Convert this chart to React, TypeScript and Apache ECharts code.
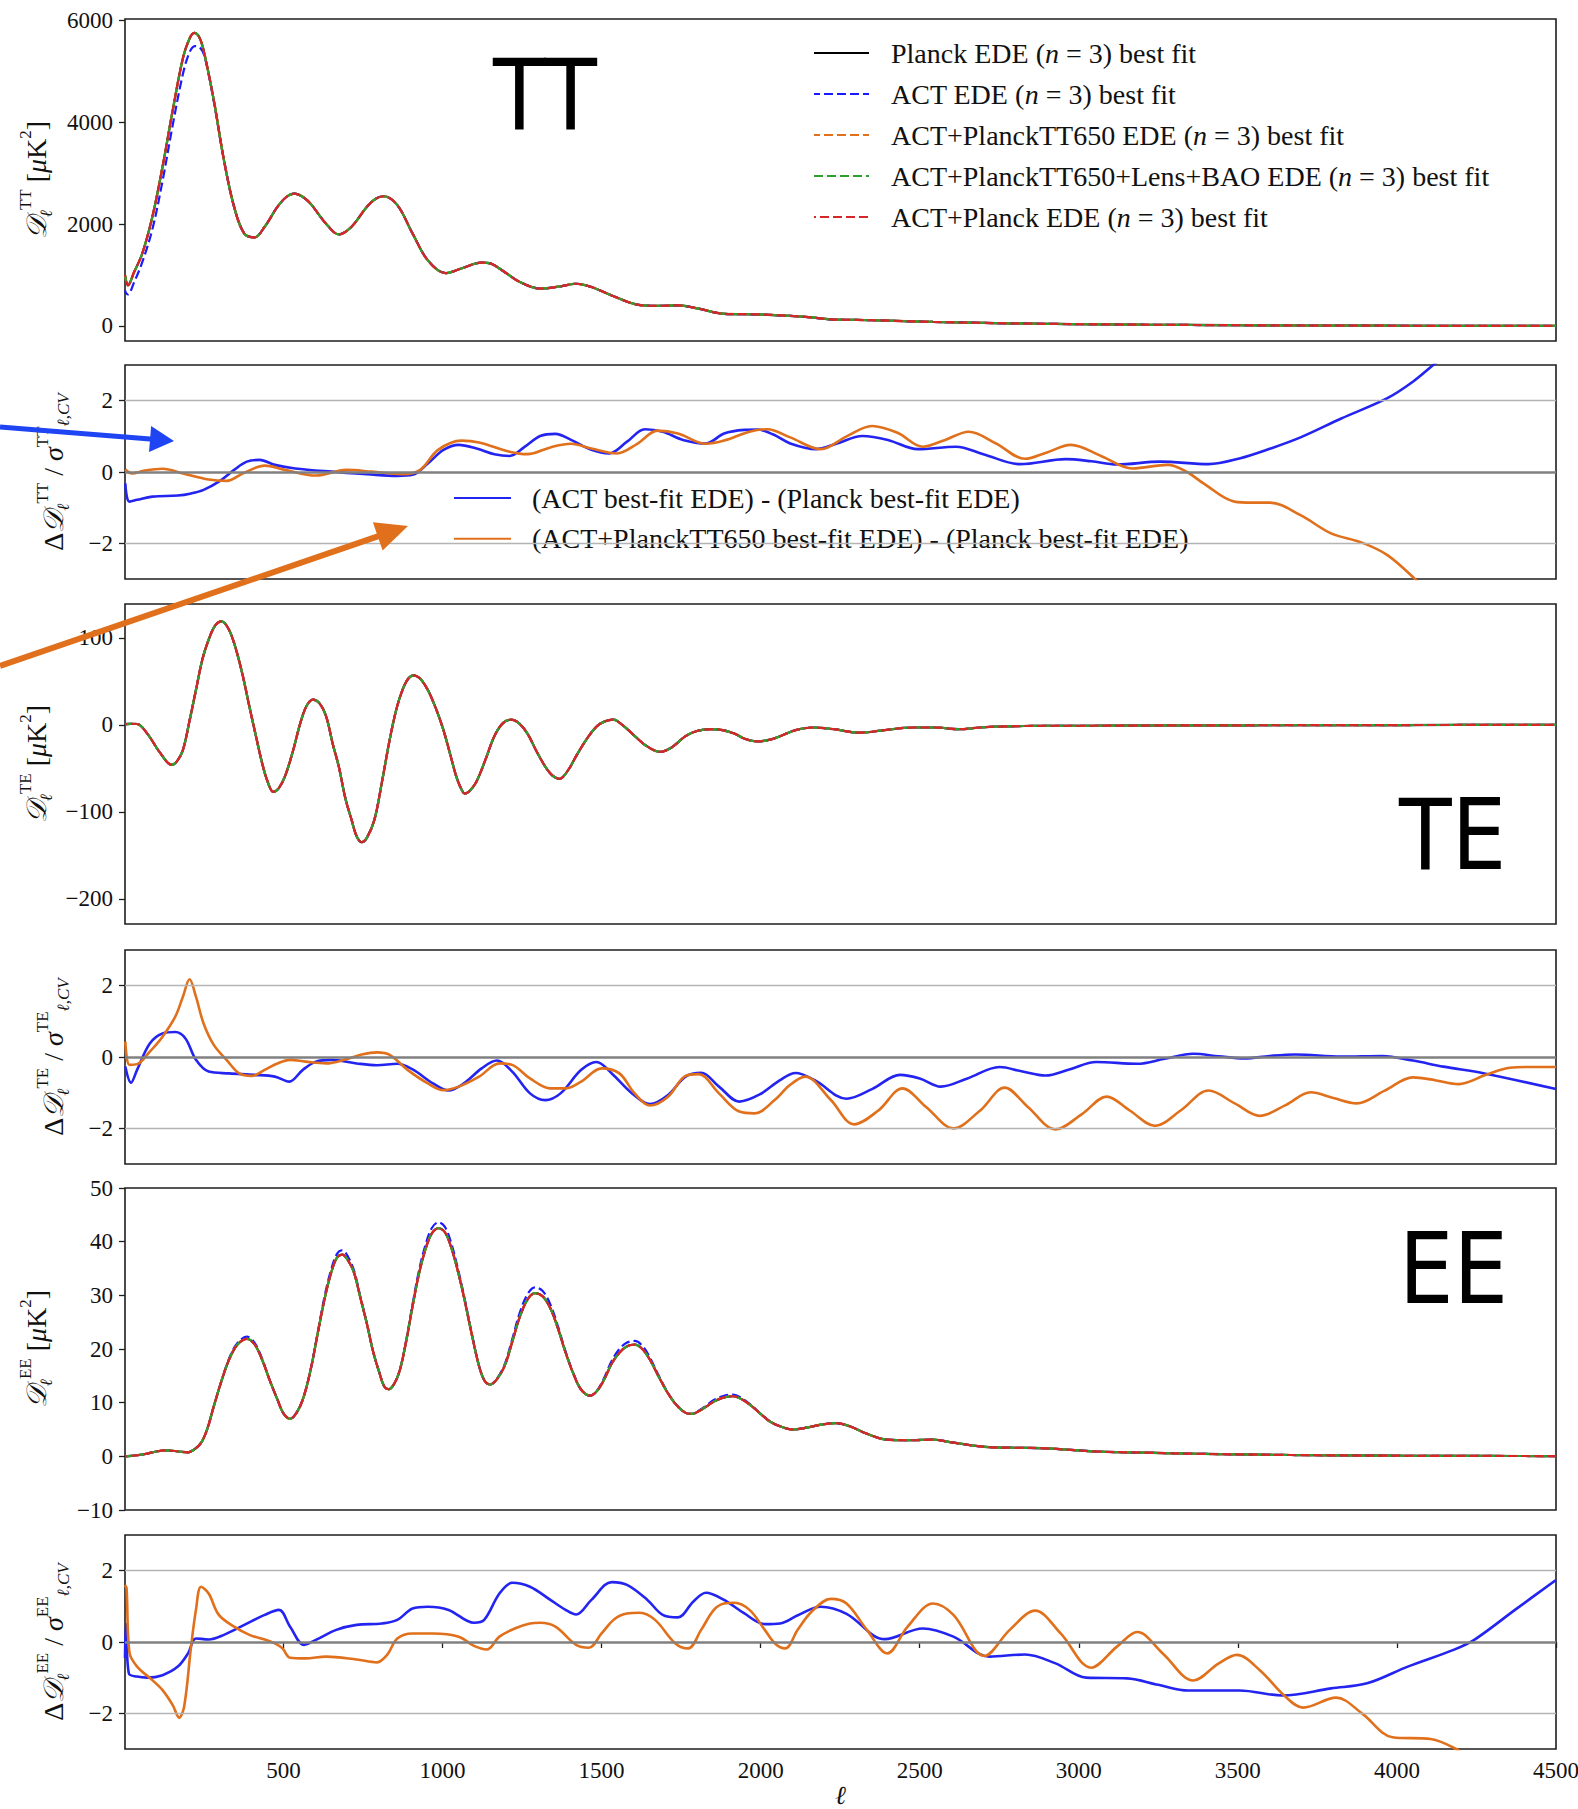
import React, { useEffect, useRef } from 'react';
import * as echarts from 'echarts';

// ---------------- data ----------------
const planckTT: [number, number][] = [
  [2, 1000], [6, 870], [11, 800], [30, 1050], [56, 1420], [88, 2145], [120, 3130], [152, 4240], [184, 5260],
  [205, 5650], [220, 5760], [235, 5680], [249, 5420], [281, 4440], [313, 3260], [345, 2340], [377, 1815],
  [409, 1740], [441, 1950], [481, 2340], [510, 2540], [534, 2600], [560, 2540], [585, 2405], [634, 2010],
  [674, 1800], [714, 1950], [762, 2340], [790, 2500], [815, 2550], [858, 2375], [906, 1815], [954, 1290],
  [1010, 1040], [1059, 1130], [1123, 1245], [1150, 1230], [1187, 1095], [1243, 865], [1307, 735], [1371, 780],
  [1420, 830], [1468, 765], [1532, 600], [1612, 420], [1676, 395], [1740, 405], [1805, 340], [1885, 240],
  [1981, 230], [2077, 205], [2150, 175], [2221, 130], [2300, 120], [2400, 105], [2542, 80], [2700, 60],
  [2863, 45], [3100, 30], [3344, 20], [3600, 12], [3825, 7], [4100, 4], [4500, 2],
];
const actTT: [number, number][] = [
  [2, 700], [6, 640], [11, 620], [30, 850], [56, 1250], [88, 1900], [120, 2850], [152, 3950], [184, 4950],
  [205, 5380], [222, 5500], [238, 5470], [252, 5300], [281, 4420], [313, 3260], [345, 2340], [377, 1815],
  [409, 1740], [441, 1950], [481, 2340], [510, 2540], [534, 2600], [560, 2540], [585, 2405], [634, 2010],
  [674, 1800], [714, 1950], [762, 2340], [790, 2500], [815, 2550], [858, 2375], [906, 1815], [954, 1290],
  [1010, 1040], [1059, 1130], [1123, 1245], [1150, 1230], [1187, 1095], [1243, 865], [1307, 735], [1371, 780],
  [1420, 830], [1468, 765], [1532, 600], [1612, 420], [1676, 395], [1740, 405], [1805, 340], [1885, 240],
  [1981, 230], [2077, 205], [2150, 175], [2221, 130], [2300, 120], [2400, 105], [2542, 80], [2700, 60],
  [2863, 45], [3100, 30], [3344, 20], [3600, 12], [3825, 7], [4100, 4], [4500, 2],
];
const actPlanck650TT = planckTT;
const actPlanck650LensTT = planckTT;
const actPlanckTT = planckTT;

const planckTE: [number, number][] = [
  [2, 0.8], [20, 1.2], [40, 1], [72, -10], [112, -32], [149, -46], [165, -42], [184, -29], [205, 5], [225, 40],
  [245, 75], [265, 98], [285, 114], [305, 119], [325, 112], [345, 94], [370, 60], [393, 21], [413, -12],
  [433, -44], [450, -65], [468, -77], [485, -73], [505, -59], [530, -30], [553, 2], [573, 22], [593, 29],
  [613, 25], [634, 10], [655, -22], [674, -48], [695, -85], [714, -109], [730, -128], [746, -135], [762, -130],
  [786, -109], [810, -65], [834, -17], [855, 18], [874, 40], [892, 53], [909, 57], [930, 53], [954, 40],
  [980, 18], [1003, -6], [1025, -35], [1043, -59], [1058, -73], [1070, -79], [1085, -76], [1107, -65],
  [1135, -40], [1163, -13], [1190, 2], [1216, 6], [1240, 2], [1267, -10], [1295, -30], [1323, -48],
  [1345, -58], [1368, -62], [1395, -52], [1420, -36], [1450, -18], [1484, -2], [1510, 4], [1537, 6],
  [1565, 0], [1596, -10], [1640, -24], [1684, -31], [1720, -26], [1764, -13], [1800, -7], [1845, -5],
  [1880, -6], [1917, -10], [1950, -16], [1989, -19], [2030, -17], [2061, -13], [2110, -6], [2165, -3],
  [2230, -5], [2310, -9], [2390, -6], [2478, -3], [2550, -3], [2622, -5], [2690, -3], [2751, -2],
  [2900, -1], [3023, -1], [3300, -0.6], [3505, -0.5], [4000, -0.2], [4500, 0],
];
const actTE = planckTE;
const actPlanck650TE = planckTE;
const actPlanck650LensTE = planckTE;
const actPlanckTE = planckTE;

const planckEE: [number, number][] = [
  [2, 0], [40, 0.2], [72, 0.5], [100, 0.9], [136, 1.1], [170, 0.9], [200, 0.75], [220, 1.3], [241, 2.5],
  [260, 5], [281, 9.3], [305, 14], [329, 18], [355, 20.8], [385, 21.9], [410, 20.8], [433, 18], [458, 14],
  [481, 10.6], [500, 8], [521, 7], [540, 8], [561, 10.6], [585, 16], [610, 23.6], [630, 29.5], [650, 34.2],
  [668, 37], [685, 37.6], [703, 36.5], [722, 34.2], [742, 29.5], [762, 24.8], [782, 19.5], [802, 15.5],
  [817, 13], [831, 12.5], [848, 13.5], [866, 16.1], [886, 21.5], [906, 28], [926, 34], [946, 38.5],
  [966, 41.5], [987, 42.5], [1007, 41.8], [1027, 39], [1047, 34.8], [1067, 29.8], [1091, 23], [1115, 16.8],
  [1133, 14], [1150, 13.4], [1170, 14.3], [1195, 16.8], [1220, 21.5], [1243, 26], [1268, 29.3], [1291, 30.4],
  [1315, 29.8], [1339, 27.6], [1363, 23.8], [1387, 19.3], [1412, 15.3], [1436, 12.4], [1464, 11.3],
  [1486, 12.2], [1508, 14.3], [1532, 17.3], [1556, 19.3], [1580, 20.5], [1604, 20.8], [1628, 20], [1652, 18],
  [1680, 14.8], [1708, 11.8], [1736, 9.5], [1764, 8.1], [1785, 7.9], [1805, 8.4], [1830, 9.3], [1853, 10.2],
  [1880, 10.9], [1912, 11.2], [1942, 10.6], [1973, 9.3], [2000, 7.9], [2029, 6.5], [2061, 5.6], [2101, 5.0],
  [2140, 5.3], [2190, 5.9], [2237, 6.2], [2280, 5.6], [2330, 4.3], [2398, 3.1], [2470, 3.0], [2542, 3.1],
  [2600, 2.6], [2719, 1.7], [2800, 1.6], [2895, 1.5], [3055, 0.9], [3200, 0.7], [3344, 0.5], [3665, 0.25],
  [3986, 0.12], [4500, 0.05],
];
const actEE: [number, number][] = [
  [2, 0], [40, 0.2], [72, 0.5], [100, 0.9], [136, 1.1], [170, 0.9], [200, 0.75], [220, 1.3], [241, 2.5],
  [260, 5], [281, 9.3], [305, 14], [329, 18.2], [355, 21.1], [385, 22.3], [410, 21.1], [433, 18.2], [458, 14],
  [481, 10.6], [500, 8], [521, 7], [540, 8], [561, 10.6], [585, 16], [610, 23.8], [630, 30], [650, 34.8],
  [668, 37.7], [685, 38.4], [703, 37.2], [722, 34.6], [742, 29.7], [762, 24.8], [782, 19.5], [802, 15.5],
  [817, 13], [831, 12.5], [848, 13.5], [866, 16.1], [886, 21.7], [906, 28.4], [926, 34.6], [946, 39.3],
  [966, 42.5], [987, 43.6], [1007, 42.8], [1027, 39.8], [1047, 35.3], [1067, 30.1], [1091, 23.2], [1115, 16.8],
  [1133, 14], [1150, 13.4], [1170, 14.4], [1195, 17.1], [1220, 22], [1243, 26.8], [1268, 30.3], [1291, 31.5],
  [1315, 30.8], [1339, 28.3], [1363, 24.2], [1387, 19.5], [1412, 15.4], [1436, 12.4], [1464, 11.3],
  [1486, 12.3], [1508, 14.6], [1532, 17.8], [1556, 20], [1580, 21.2], [1604, 21.5], [1628, 20.6], [1652, 18.4],
  [1680, 15], [1708, 11.9], [1736, 9.5], [1764, 8.1], [1785, 7.9], [1805, 8.5], [1830, 9.5], [1853, 10.5],
  [1880, 11.2], [1912, 11.5], [1942, 10.8], [1973, 9.4], [2000, 7.9], [2029, 6.5], [2061, 5.6], [2101, 5.0],
  [2140, 5.3], [2190, 5.9], [2237, 6.2], [2280, 5.6], [2330, 4.3], [2398, 3.1], [2470, 3.0], [2542, 3.1],
  [2600, 2.6], [2719, 1.7], [2800, 1.6], [2895, 1.5], [3055, 0.9], [3200, 0.7], [3344, 0.5], [3665, 0.25],
  [3986, 0.12], [4500, 0.05],
];
const actPlanck650EE = planckEE;
const actPlanck650LensEE = planckEE;
const actPlanckEE = planckEE;

// residuals  (Δ / σ_CV)
const dTTact: [number, number][] = [
  [3, -0.32], [8, -0.7], [16, -0.83], [40, -0.78], [88, -0.69], [168, -0.66], [210, -0.6], [249, -0.5],
  [297, -0.27], [345, 0.06], [385, 0.29], [425, 0.34], [473, 0.2], [537, 0.1], [650, 0.01], [762, -0.06],
  [858, -0.11], [906, -0.08], [954, 0.24], [1003, 0.62], [1051, 0.76], [1107, 0.66], [1163, 0.5],
  [1211, 0.45], [1259, 0.71], [1307, 1.01], [1355, 1.07], [1404, 0.9], [1468, 0.62], [1524, 0.52],
  [1580, 0.85], [1636, 1.2], [1692, 1.13], [1756, 0.9], [1828, 0.8], [1885, 1.08], [1949, 1.18],
  [1990, 1.19], [2040, 1.05], [2093, 0.8], [2173, 0.64], [2240, 0.8], [2320, 1.01], [2400, 0.9],
  [2494, 0.64], [2614, 0.71], [2700, 0.5], [2815, 0.22], [2959, 0.36], [3040, 0.3], [3120, 0.21],
  [3256, 0.29], [3408, 0.22], [3505, 0.38], [3600, 0.65], [3697, 0.97], [3825, 1.5], [3970, 2.07],
  [4050, 2.53], [4114, 3.0], [4180, 3.5],
];
const dTTactPlanck650: [number, number][] = [
  [3, 0.07], [24, -0.04], [64, 0.04], [120, 0.09], [184, -0.04], [265, -0.21], [321, -0.25], [377, -0.02],
  [441, 0.18], [505, 0.06], [602, -0.1], [698, 0.06], [778, 0.01], [874, -0.06], [930, 0.06], [986, 0.62],
  [1059, 0.88], [1115, 0.83], [1211, 0.57], [1267, 0.5], [1339, 0.69], [1404, 0.79], [1468, 0.66],
  [1548, 0.52], [1612, 0.79], [1676, 1.16], [1740, 1.08], [1828, 0.79], [1885, 0.88], [1965, 1.13],
  [2021, 1.2], [2093, 0.97], [2189, 0.64], [2270, 1.0], [2350, 1.29], [2430, 1.1], [2510, 0.71],
  [2580, 0.9], [2654, 1.13], [2740, 0.8], [2831, 0.37], [2900, 0.55], [2975, 0.76], [3070, 0.45],
  [3168, 0.1], [3280, 0.2], [3340, 0.0], [3392, -0.32], [3489, -0.83], [3545, -0.86], [3601, -0.86],
  [3697, -1.21], [3793, -1.72], [3890, -1.98], [3970, -2.33], [4058, -3.01], [4100, -3.4],
];
const dTEact: [number, number][] = [
  [3, -0.27], [21, -0.72], [40, -0.36], [80, 0.38], [120, 0.66], [160, 0.7], [192, 0.52], [225, -0.08],
  [265, -0.41], [329, -0.46], [409, -0.5], [473, -0.55], [518, -0.69], [561, -0.36], [602, -0.13],
  [650, -0.08], [730, -0.18], [794, -0.23], [858, -0.19], [906, -0.35], [970, -0.74], [1019, -0.94],
  [1067, -0.74], [1123, -0.32], [1171, -0.1], [1219, -0.41], [1275, -1.02], [1323, -1.21], [1371, -1.02],
  [1436, -0.36], [1484, -0.14], [1532, -0.46], [1596, -1.02], [1652, -1.32], [1708, -1.07], [1764, -0.55],
  [1813, -0.44], [1869, -0.83], [1933, -1.25], [1997, -1.05], [2061, -0.65], [2110, -0.45], [2170, -0.65],
  [2270, -1.17], [2350, -0.9], [2438, -0.5], [2500, -0.6], [2566, -0.83], [2650, -0.6], [2751, -0.28],
  [2820, -0.4], [2895, -0.52], [2970, -0.35], [3055, -0.14], [3184, -0.19], [3270, -0.05], [3360, 0.09],
  [3440, 0.02], [3521, -0.04], [3600, 0.03], [3681, 0.07], [3825, 0.01], [3954, 0.03], [4050, -0.1],
  [4146, -0.27], [4275, -0.46], [4500, -0.9],
];
const dTEactPlanck650: [number, number][] = [
  [3, 0.43], [16, -0.22], [40, -0.2], [80, 0.15], [120, 0.57], [160, 1.13], [184, 1.69], [205, 2.18],
  [225, 1.69], [249, 0.94], [281, 0.34], [321, -0.08], [361, -0.46], [401, -0.53], [441, -0.36],
  [481, -0.18], [521, -0.08], [569, -0.13], [634, -0.18], [698, -0.06], [746, 0.07], [794, 0.13],
  [834, 0.06], [890, -0.36], [954, -0.74], [1003, -0.93], [1051, -0.83], [1115, -0.55], [1179, -0.18],
  [1219, -0.22], [1275, -0.6], [1339, -0.88], [1387, -0.88], [1436, -0.69], [1500, -0.32], [1556, -0.46],
  [1604, -1.02], [1652, -1.36], [1708, -1.12], [1764, -0.53], [1805, -0.48], [1869, -1.02], [1933, -1.53],
  [1981, -1.58], [2045, -1.2], [2090, -0.8], [2140, -0.55], [2220, -1.2], [2294, -1.89], [2370, -1.5],
  [2446, -0.88], [2520, -1.4], [2606, -2.0], [2690, -1.5], [2767, -0.86], [2840, -1.4], [2927, -2.03],
  [3010, -1.6], [3088, -1.11], [3160, -1.5], [3240, -1.93], [3320, -1.5], [3408, -0.94], [3490, -1.3],
  [3569, -1.65], [3650, -1.35], [3729, -0.99], [3800, -1.15], [3874, -1.3], [3960, -0.95], [4050, -0.57],
  [4120, -0.65], [4194, -0.76], [4280, -0.5], [4355, -0.3], [4420, -0.28], [4500, -0.28],
];
const dEEact: [number, number][] = [
  [2, -0.45], [5, 0.5], [14, -0.88], [40, -0.97], [72, -1.0], [120, -0.93], [168, -0.69], [200, -0.32],
  [225, 0.1], [265, 0.07], [313, 0.2], [377, 0.48], [441, 0.76], [486, 0.9], [521, 0.43], [565, -0.08],
  [602, 0.06], [666, 0.34], [730, 0.48], [810, 0.52], [858, 0.62], [906, 0.94], [954, 0.99], [1019, 0.9],
  [1099, 0.54], [1131, 0.62], [1179, 1.36], [1219, 1.66], [1275, 1.55], [1339, 1.18], [1387, 0.9],
  [1420, 0.77], [1468, 1.18], [1532, 1.68], [1580, 1.6], [1644, 1.18], [1692, 0.76], [1740, 0.69],
  [1788, 1.13], [1828, 1.38], [1885, 1.18], [1949, 0.8], [2013, 0.5], [2061, 0.52], [2117, 0.75],
  [2189, 0.99], [2270, 0.79], [2390, 0.08], [2510, 0.38], [2606, 0.15], [2719, -0.41], [2831, -0.35],
  [2927, -0.6], [3023, -1.0], [3152, -1.02], [3250, -1.2], [3344, -1.36], [3505, -1.36], [3641, -1.5],
  [3793, -1.3], [3906, -1.16], [4034, -0.69], [4178, -0.22], [4243, 0.06], [4371, 0.9], [4500, 1.74],
];
const dEEactPlanck650: [number, number][] = [
  [2, 1.6], [7, 1.5], [16, -0.3], [40, -0.69], [88, -1.07], [120, -1.35], [152, -1.77], [172, -2.12],
  [188, -1.81], [209, -0.18], [225, 0.9], [241, 1.55], [265, 1.36], [297, 0.76], [345, 0.43], [393, 0.2],
  [441, 0.07], [473, -0.04], [497, -0.18], [521, -0.44], [569, -0.46], [634, -0.41], [730, -0.49],
  [794, -0.57], [826, -0.36], [858, 0.1], [906, 0.24], [970, 0.24], [1051, 0.15], [1099, -0.11],
  [1139, -0.21], [1179, 0.15], [1227, 0.38], [1275, 0.52], [1307, 0.54], [1355, 0.43], [1420, -0.08],
  [1460, -0.16], [1500, 0.24], [1540, 0.64], [1580, 0.8], [1620, 0.82], [1668, 0.62], [1732, -0.04],
  [1772, -0.18], [1813, 0.34], [1853, 0.9], [1885, 1.08], [1917, 1.1], [1965, 0.9], [2013, 0.34],
  [2045, -0.04], [2077, -0.18], [2117, 0.35], [2160, 0.85], [2221, 1.21], [2270, 1.08], [2334, 0.34],
  [2398, -0.32], [2462, 0.43], [2542, 1.08], [2606, 0.76], [2703, -0.39], [2783, 0.34], [2863, 0.88],
  [2943, 0.24], [3039, -0.72], [3120, -0.13], [3184, 0.28], [3264, -0.32], [3360, -1.08], [3440, -0.6],
  [3497, -0.36], [3569, -0.79], [3649, -1.53], [3705, -1.84], [3809, -1.56], [3890, -2.0], [3986, -2.67],
  [4106, -2.72], [4186, -3.0], [4230, -3.3],
];

// axis ticks
const xTicks = [500, 1000, 1500, 2000, 2500, 3000, 3500, 4000, 4500];
const ttTicks = [0, 2000, 4000, 6000];
const teTicks = [-200, -100, 0, 100];
const eeTicks = [-10, 0, 10, 20, 30, 40, 50];
const resTicks = [-2, 0, 2];

const NAMES = [
  'Planck EDE (n = 3) best fit',
  'ACT EDE (n = 3) best fit',
  'ACT+PlanckTT650 EDE (n = 3) best fit',
  'ACT+PlanckTT650+Lens+BAO EDE (n = 3) best fit',
  'ACT+Planck EDE (n = 3) best fit',
];
const RES_NAMES = [
  '(ACT best-fit EDE) - (Planck best-fit EDE)',
  '(ACT+PlanckTT650 best-fit EDE) - (Planck best-fit EDE)',
];

// ---------------- styling ----------------
const SERIF = '"Liberation Serif", "DejaVu Serif", serif';
const C_BLACK = '#000000';
const C_BLUE = '#1a1aff';
const C_ORANGE = '#e0701b';
const C_GREEN = '#2ca02c';
const C_RED = '#d62728';
const C_RES_BLUE = '#2424f0';

const LEFT = 125;
const WIDTH = 1431;
const PANELS = [
  { top: 19, height: 322, min: -295, max: 6033, ticks: ttTicks },
  { top: 365, height: 214, min: -3, max: 3, ticks: resTicks },
  { top: 604, height: 320, min: -229, max: 139, ticks: teTicks },
  { top: 950, height: 214, min: -3, max: 3, ticks: resTicks },
  { top: 1188, height: 322, min: -10, max: 50, ticks: eeTicks },
  { top: 1535, height: 214, min: -3, max: 3, ticks: resTicks },
];

const fmt = (v: number) => (v < 0 ? '\u2212' + Math.abs(v) : String(v));

function lineSeries(name: string, data: [number, number][], idx: number, color: string, width: number, dashed: boolean, dashOffset = 0, extra: any = {}) {
  return {
    type: 'line',
    name,
    data,
    xAxisIndex: idx,
    yAxisIndex: idx,
    showSymbol: false,
    symbol: 'none',
    smooth: 0.35,
    clip: true,
    silent: true,
    animation: false,
    lineStyle: { color, width, type: dashed ? [9, 4] : 'solid', dashOffset, cap: 'butt' },
    itemStyle: { color },
    emphasis: { disabled: true },
    ...extra,
  };
}

const refLines = {
  silent: true,
  symbol: 'none',
  animation: false,
  label: { show: false },
  emphasis: { disabled: true },
  data: [
    { yAxis: 2, lineStyle: { color: '#b4b4b4', width: 1.3, type: 'solid' } },
    { yAxis: -2, lineStyle: { color: '#b4b4b4', width: 1.3, type: 'solid' } },
    { yAxis: 0, lineStyle: { color: '#808080', width: 2.6, type: 'solid' } },
  ],
};

function arrow(x0: number, y0: number, x1: number, y1: number, w: number, hl: number, hw: number) {
  const dx = x1 - x0, dy = y1 - y0;
  const L = Math.hypot(dx, dy);
  const ux = dx / L, uy = dy / L;
  const nx = -uy, ny = ux;
  const bx = x1 - ux * hl, by = y1 - uy * hl;
  return [
    [x0 + nx * w / 2, y0 + ny * w / 2],
    [bx + nx * w / 2, by + ny * w / 2],
    [bx + nx * hw, by + ny * hw],
    [x1, y1],
    [bx - nx * hw, by - ny * hw],
    [bx - nx * w / 2, by - ny * w / 2],
    [x0 - nx * w / 2, y0 - ny * w / 2],
  ];
}

const labelRich = {
  D: { fontFamily: '"DejaVu Serif", "DejaVu Sans", serif', fontSize: 28, fontStyle: 'italic', lineHeight: 38, verticalAlign: 'middle' },
  n: { fontFamily: SERIF, fontSize: 28, lineHeight: 38, verticalAlign: 'middle' },
  it: { fontFamily: SERIF, fontSize: 28, fontStyle: 'italic', lineHeight: 38, verticalAlign: 'middle' },
  sp: { fontFamily: SERIF, fontSize: 17, lineHeight: 17, verticalAlign: 'top' },
  sb: { fontFamily: SERIF, fontSize: 17, fontStyle: 'italic', lineHeight: 17, verticalAlign: 'bottom' },
};

function yLabel(x: number, y: number, text: string) {
  return {
    type: 'text',
    x,
    y,
    rotation: Math.PI / 2,
    z: 50,
    silent: true,
    style: {
      text,
      rich: labelRich,
      fontFamily: SERIF,
      fontSize: 28,
      fill: '#111',
      align: 'center',
      verticalAlign: 'middle',
    },
  };
}

function bigText(x: number, y: number, text: string) {
  return {
    type: 'text',
    x,
    y,
    scaleX: 0.88,
    z: 50,
    silent: true,
    style: {
      text,
      fontFamily: '"DejaVu Sans", sans-serif',
      fontSize: 98,
      fill: '#000',
      stroke: '#ffffff',
      lineWidth: 2.2,
      align: 'left',
      verticalAlign: 'middle',
    },
  };
}

function buildOption() {
  const grid = PANELS.map((p) => ({
    left: LEFT,
    width: WIDTH,
    top: p.top,
    height: p.height,
    show: true,
    borderColor: '#1e1e1e',
    borderWidth: 1.6,
    backgroundColor: 'transparent',
    containLabel: false,
    outerBoundsMode: 'none',
  }));

  const xAxis = PANELS.map((_, i) => {
    const bottom = i === PANELS.length - 1;
    return {
      type: 'value',
      gridIndex: i,
      min: 2,
      max: 4500,
      axisLine: { show: false },
      splitLine: { show: false },
      axisTick: {
        show: bottom,
        length: 6,
        customValues: xTicks,
        lineStyle: { color: '#1e1e1e', width: 1.3 },
      },
      axisLabel: {
        show: bottom,
        customValues: xTicks,
        margin: 10,
        fontFamily: SERIF,
        fontSize: 23,
        color: '#111',
        formatter: fmt,
      },
      name: bottom ? '\u2113' : '',
      nameLocation: 'middle',
      nameGap: 30,
      nameTextStyle: { fontFamily: SERIF, fontStyle: 'italic', fontSize: 26, color: '#111', lineHeight: 26 },
    };
  });

  const yAxis = PANELS.map((p, i) => ({
    type: 'value',
    gridIndex: i,
    min: p.min,
    max: p.max,
    axisLine: { show: false },
    splitLine: { show: false },
    axisTick: {
      show: true,
      length: 6,
      customValues: p.ticks,
      lineStyle: { color: '#1e1e1e', width: 1.3 },
    },
    axisLabel: {
      show: true,
      customValues: p.ticks,
      margin: 12,
      fontFamily: SERIF,
      fontSize: 23,
      color: '#111',
      formatter: fmt,
    },
  }));

  const mainSets = [
    [planckTT, actTT, actPlanck650TT, actPlanck650LensTT, actPlanckTT],
    [planckTE, actTE, actPlanck650TE, actPlanck650LensTE, actPlanckTE],
    [planckEE, actEE, actPlanck650EE, actPlanck650LensEE, actPlanckEE],
  ];
  const colors = [C_BLACK, C_BLUE, C_ORANGE, C_GREEN, C_RED];
  const series: any[] = [];
  mainSets.forEach((set, k) => {
    const idx = k * 2;
    set.forEach((d, j) => {
      series.push(lineSeries(NAMES[j], d, idx, colors[j], 2.2, j > 0, j === 4 ? 6.5 : j === 3 ? 0 : 3));
    });
  });
  const resSets = [
    [dTTact, dTTactPlanck650],
    [dTEact, dTEactPlanck650],
    [dEEact, dEEactPlanck650],
  ];
  resSets.forEach((set, k) => {
    const idx = k * 2 + 1;
    series.push(lineSeries(RES_NAMES[0], set[0], idx, C_RES_BLUE, 2.6, false, 0, { markLine: refLines, z: 3 }));
    series.push(lineSeries(RES_NAMES[1], set[1], idx, C_ORANGE, 2.6, false, 0, { z: 4 }));
  });

  const legendText = {
    fontFamily: SERIF,
    fontSize: 28,
    lineHeight: 30,
    color: '#111',
    padding: [0, 0, 0, 17],
    rich: {
      i: { fontFamily: SERIF, fontSize: 28, fontStyle: 'italic', lineHeight: 30, color: '#111' },
    },
  };
  const legendCommon = {
    orient: 'vertical',
    itemHeight: 14,
    selectedMode: false,
    backgroundColor: 'transparent',
    borderWidth: 0,
    padding: 0,
    align: 'left',
    itemStyle: { opacity: 0 },
  };
  const legend = [
    {
      ...legendCommon,
      data: NAMES,
      left: 813,
      top: 38,
      itemWidth: 55,
      itemGap: 11,
      textStyle: legendText,
      formatter: (name: string) => name.replace('(n = 3)', '({i|n} = 3)'),
    },
    {
      ...legendCommon,
      data: RES_NAMES,
      left: 453,
      top: 483,
      itemWidth: 57,
      itemGap: 10.7,
      textStyle: { ...legendText, padding: [0, 0, 0, 16] },
    },
  ];

  const graphic: any[] = [
    bigText(493, 95, 'TT'),
    bigText(1399, 835, 'TE'),
    bigText(1399, 1269, 'EE'),
    yLabel(36, 180, '{D|\uD835\uDC9F}{sb|\u2113}{sp|TT}{n| [}{it|\u03BC}{n|K}{sp|2}{n|]}'),
    yLabel(53, 472, '{n|\u0394}{D|\uD835\uDC9F}{sb|\u2113}{sp|TT}{n| / }{it|\u03C3}{sp|TT}{sb|\u2113,CV}'),
    yLabel(36, 764, '{D|\uD835\uDC9F}{sb|\u2113}{sp|TE}{n| [}{it|\u03BC}{n|K}{sp|2}{n|]}'),
    yLabel(53, 1057, '{n|\u0394}{D|\uD835\uDC9F}{sb|\u2113}{sp|TE}{n| / }{it|\u03C3}{sp|TE}{sb|\u2113,CV}'),
    yLabel(36, 1349, '{D|\uD835\uDC9F}{sb|\u2113}{sp|EE}{n| [}{it|\u03BC}{n|K}{sp|2}{n|]}'),
    yLabel(53, 1642, '{n|\u0394}{D|\uD835\uDC9F}{sb|\u2113}{sp|EE}{n| / }{it|\u03C3}{sp|EE}{sb|\u2113,CV}'),
    {
      type: 'polygon',
      z: 100,
      silent: true,
      shape: { points: arrow(0, 427, 174, 441, 5, 24, 13) },
      style: { fill: '#1f44f4' },
    },
    {
      type: 'polygon',
      z: 100,
      silent: true,
      shape: { points: arrow(0, 666, 408, 526, 6, 32, 15) },
      style: { fill: C_ORANGE },
    },
  ];

  return {
    animation: false,
    backgroundColor: '#ffffff',
    textStyle: { fontFamily: SERIF },
    grid,
    xAxis,
    yAxis,
    legend,
    series,
    graphic,
  };
}

export default function App() {
  const ref = useRef<HTMLDivElement>(null);
  useEffect(() => {
    if (!ref.current) return;
    const chart = echarts.init(ref.current, null, { renderer: 'svg' });
    chart.setOption(buildOption() as any);
    return () => {
      chart.dispose();
    };
  }, []);
  return (
    <div
      ref={ref}
      style={{ position: 'absolute', left: 0, top: 0, width: 1578, height: 1809, background: '#fff' }}
    />
  );
}
